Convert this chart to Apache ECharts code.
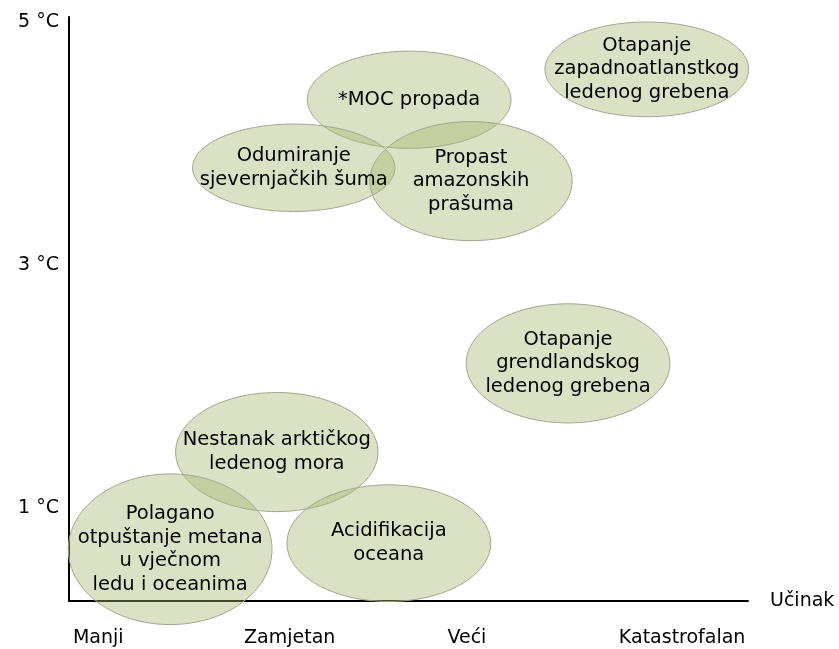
<!DOCTYPE html>
<html>
<head>
<meta charset="utf-8">
<script src="https://cdn.jsdelivr.net/npm/echarts@6/dist/echarts.min.js"></script>
<style>
  html, body { margin: 0; padding: 0; background: #fff; }
  #chart { width: 839px; height: 649px; }
</style>
</head>
<body>
<div id="chart"></div>
<script>
// tipping points: impact (x, 0-10) vs warming (y, °C)
var names = [
    '*MOC propada',
    'Odumiranje\nsjevernjačkih šuma',
    'Propast\namazonskih\nprašuma',
    'Otapanje\nzapadnoatlanstkog\nledenog grebena',
    'Otapanje\ngrendlandskog\nledenog grebena',
    'Nestanak arktičkog\nledenog mora',
    'Polagano\notpuštanje metana\nu vječnom\nledu i oceanima',
    'Acidifikacija\noceana'
];
var impact = [5.01, 3.31, 5.92, 8.51, 7.35, 3.06, 1.49, 4.71];
var warming = [4.36, 3.80, 3.69, 4.61, 2.19, 1.46, 0.66, 0.71];
var impactSpread = [1.50, 1.49, 1.49, 1.50, 1.50, 1.49, 1.50, 1.50];
var warmingSpread = [0.40, 0.36, 0.49, 0.39, 0.49, 0.49, 0.62, 0.48];

var impactTicks = [0.43, 3.25, 5.86, 9.03];
var impactLabels = ['Manji', 'Zamjetan', 'Veći', 'Katastrofalan'];
var warmingTicks = [1, 3, 5];

var font = '"DejaVu Sans", Verdana, sans-serif';

var seriesData = names.map(function (n, i) {
    return [impact[i], warming[i], impactSpread[i], warmingSpread[i]];
});

var chart = echarts.init(document.getElementById('chart'));

var option = {
    animation: false,
    grid: { left: 69, right: 91, top: 17, bottom: 48 },
    xAxis: {
        type: 'value',
        min: 0,
        max: 10,
        name: 'Učinak',
        nameLocation: 'end',
        nameGap: 22,
        nameTextStyle: { color: '#000', fontSize: 19, fontFamily: font, verticalAlign: 'middle' },
        axisLine: { show: true, onZero: false, lineStyle: { color: '#000', width: 2 } },
        axisTick: { show: false },
        splitLine: { show: false },
        axisLabel: {
            customValues: impactTicks,
            margin: 28,
            color: '#000',
            fontSize: 19,
            fontFamily: font,
            formatter: function (v) {
                var idx = impactTicks.indexOf(v);
                return idx >= 0 ? impactLabels[idx] : '';
            }
        }
    },
    yAxis: {
        type: 'value',
        min: 0.234,
        max: 5.041,
        axisLine: { show: true, onZero: false, lineStyle: { color: '#000', width: 2 } },
        axisTick: { show: false },
        splitLine: { show: false },
        axisLabel: {
            customValues: warmingTicks,
            margin: 10,
            padding: [4, 0, 0, 0],
            color: '#000',
            fontSize: 19,
            fontFamily: font,
            formatter: function (v) { return v + ' °C'; }
        }
    },
    series: [{
        type: 'custom',
        clip: false,
        data: seriesData,
        renderItem: function (params, api) {
            var c = api.coord([api.value(0), api.value(1)]);
            var s = api.size([api.value(2), api.value(3)]);
            return {
                type: 'group',
                children: [{
                    type: 'ellipse',
                    z2: 0,
                    shape: { cx: c[0], cy: c[1], rx: s[0], ry: s[1] },
                    style: { fill: 'rgba(165,180,110,0.4)', stroke: '#a2a58e', lineWidth: 1 }
                }, {
                    type: 'text',
                    z2: 100,
                    x: c[0],
                    y: c[1],
                    style: {
                        text: names[params.dataIndex],
                        align: 'center',
                        verticalAlign: 'middle',
                        fontSize: 19.5,
                        lineHeight: 23.5,
                        fontFamily: font,
                        fill: '#000'
                    }
                }]
            };
        }
    }]
};

chart.setOption(option);
</script>
</body>
</html>
